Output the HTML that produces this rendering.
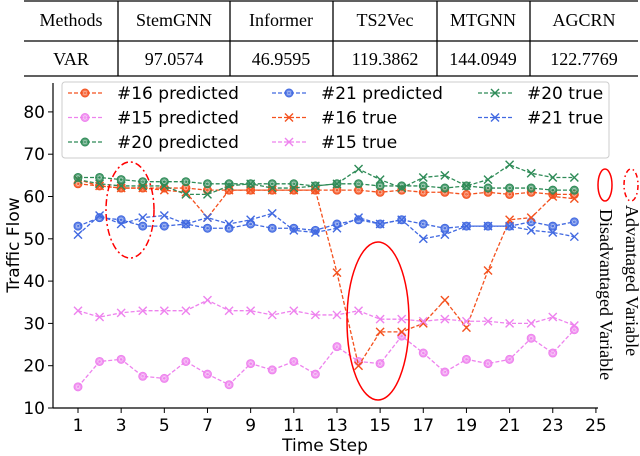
<!DOCTYPE html><html><head><meta charset="utf-8"><style>
body{margin:0;background:#fff;width:640px;height:456px;overflow:hidden}
svg{display:block}
.s{font-family:"Liberation Serif",serif;font-size:18px}
.d{font-family:"DejaVu Sans","Liberation Sans",sans-serif}
</style></head><body>
<svg id="g" width="640" height="456" xmlns="http://www.w3.org/2000/svg">
<g stroke="#000" stroke-width="1.3">
<line x1="24" y1="1" x2="638" y2="1"/><line x1="24" y1="41" x2="638" y2="41"/><line x1="24" y1="76" x2="638" y2="76"/>
<line x1="118" y1="1" x2="118" y2="76"/><line x1="230" y1="1" x2="230" y2="76"/><line x1="333" y1="1" x2="333" y2="76"/><line x1="437" y1="1" x2="437" y2="76"/><line x1="530" y1="1" x2="530" y2="76"/>
</g>
<g class="s" text-anchor="middle">
<text x="71" y="26">Methods</text><text x="174" y="26">StemGNN</text><text x="281" y="26">Informer</text><text x="385" y="26">TS2Vec</text><text x="483" y="26">MTGNN</text><text x="584" y="26">AGCRN</text>
<text x="71" y="65">VAR</text><text x="174" y="65">97.0574</text><text x="281" y="65">46.9595</text><text x="385" y="65">119.3862</text><text x="483" y="65">144.0949</text><text x="584" y="65">122.7769</text>
</g>
<g id="plot"></g>
</svg>
<script>
const ns="http://www.w3.org/2000/svg",P=document.getElementById('plot');
function el(t,a,txt){const e=document.createElementNS(ns,t);for(const k in a)e.setAttribute(k,a[k]);if(txt)e.textContent=txt;P.appendChild(e);return e;}
const X=v=>78+(v-1)*21.58,Y=v=>408-(v-10)*4.23;
el('line',{x1:53,y1:83,x2:53,y2:408,stroke:'#000','stroke-width':1.2});
el('line',{x1:53,y1:408,x2:598,y2:408,stroke:'#000','stroke-width':1.2});
for(let v=10;v<=80;v+=10){el('line',{x1:48,y1:Y(v),x2:53,y2:Y(v),stroke:'#000'});el('text',{x:45,y:Y(v)+6,'text-anchor':'end','font-size':17,class:'d'},String(v));}
for(let v=1;v<=25;v+=2){el('line',{x1:X(v),y1:408,x2:X(v),y2:413,stroke:'#000'});el('text',{x:X(v),y:431,'text-anchor':'middle','font-size':17,class:'d'},String(v));}
el('text',{x:325,y:451,'text-anchor':'middle','font-size':17,class:'d'},'Time Step');
el('text',{x:0,y:0,'text-anchor':'middle','font-size':17,class:'d',transform:'translate(19,245) rotate(-90)'},'Traffic Flow');
const S=[
['#f4511e','o',[63,62.5,62,62,62,62,61.5,61.5,61.5,61.5,61.5,61.5,61.5,61.5,61,61.5,61,61,60.5,61,60.5,61,60.5,60.5]],
['#ee82ee','o',[15,21,21.5,17.5,17,21,18,15.5,20.5,19,21,18,24.5,21,20.5,27,23,18.5,21.5,20.5,21.5,26.5,23,28.5]],
['#2e8b57','o',[64.5,64.5,64,63.5,63.5,63.5,63,63,63,63,63,62.5,63,63,62.5,62.5,62.5,62,62.5,62,62,62,61.5,61.5]],
['#4169e1','o',[53,55,54.5,53,53,53.5,52.5,52.5,53.5,52.5,52.5,52,53.5,54.5,53.5,54.5,53.5,52.5,53,53,53,54,53,54]],
['#f4511e','x',[64,62.5,62,62,61.5,61,55,61.5,61.5,61.5,61.5,61.5,42,20,28,28,30,35.5,29,42.5,54.5,55,60,59.5]],
['#ee82ee','x',[33,31.5,32.5,33,33,33,35.5,33,33,32,33,32,32,33,31,31,30.5,31,30.5,30.5,30,30,31.5,29.5]],
['#2e8b57','x',[64,63,62.5,62.5,62.5,60.5,60.5,62.5,63,62,62,62.5,63,66.5,64,62,64.5,65,62.5,64,67.5,65.5,64.5,64.5]],
['#4169e1','x',[51,55.5,53.5,55,55.5,53.5,55,53.5,54.5,56,52,51.5,52.5,55,53.5,54.5,50,51,53,53,53,52,51.5,50.5]]];
function mark(t,x,y,c){if(t=='o'){el('circle',{cx:x,cy:y,r:4,fill:c,stroke:c,'fill-opacity':0.8});el('circle',{cx:x,cy:y,r:1.8,fill:'none',stroke:'#fff','stroke-width':0.7,'stroke-opacity':0.6});}
else{el('path',{d:`M${x-4} ${y-4}L${x+4} ${y+4}M${x-4} ${y+4}L${x+4} ${y-4}`,stroke:c,'stroke-width':1.4});}}
S.forEach(([c,t,d])=>{el('polyline',{points:d.map((v,i)=>X(i+1)+','+Y(v)).join(' '),fill:'none',stroke:c,'stroke-width':1.3,'stroke-dasharray':'4,2'});d.forEach((v,i)=>mark(t,X(i+1),Y(v),c));});
el('ellipse',{cx:130,cy:210,rx:24,ry:48,fill:'none',stroke:'#f00','stroke-width':1.5,'stroke-dasharray':'7,3,2,3'});
el('ellipse',{cx:378,cy:321,rx:31,ry:79,fill:'none',stroke:'#f00','stroke-width':1.5});
el('ellipse',{cx:605,cy:185,rx:7,ry:16,fill:'none',stroke:'#f00','stroke-width':1.5});
el('ellipse',{cx:631,cy:185,rx:7,ry:16,fill:'none',stroke:'#f00','stroke-width':1.5,'stroke-dasharray':'5,3,1.5,3'});
el('text',{x:0,y:0,class:'s','font-size':19,transform:'translate(600,209) rotate(90)'},'Disadvantaged Variable');
el('text',{x:0,y:0,class:'s','font-size':19,transform:'translate(626,205) rotate(90)'},'Advantaged Variable');
el('rect',{x:62,y:82,width:547,height:76,rx:3,fill:'#fff','fill-opacity':0.85,stroke:'#ccc'});
const L=[[0,0,0,'#16 predicted'],[1,0,1,'#15 predicted'],[2,0,2,'#20 predicted'],[0,1,3,'#21 predicted'],[1,1,4,'#16 true'],[2,1,5,'#15 true'],[0,2,6,'#20 true'],[1,2,7,'#21 true']];
const cx=[68,272,478];
L.forEach(([r,col,s,txt])=>{const [c,t]=S[s];const y=93+r*24.5,x=cx[col];
el('line',{x1:x,y1:y,x2:x+34,y2:y,stroke:c,'stroke-width':1.3,'stroke-dasharray':'4,2'});mark(t,x+17,y,c);
el('text',{x:x+49,y:y+6,'font-size':17,class:'d'},txt);});
</script>
</body></html>
